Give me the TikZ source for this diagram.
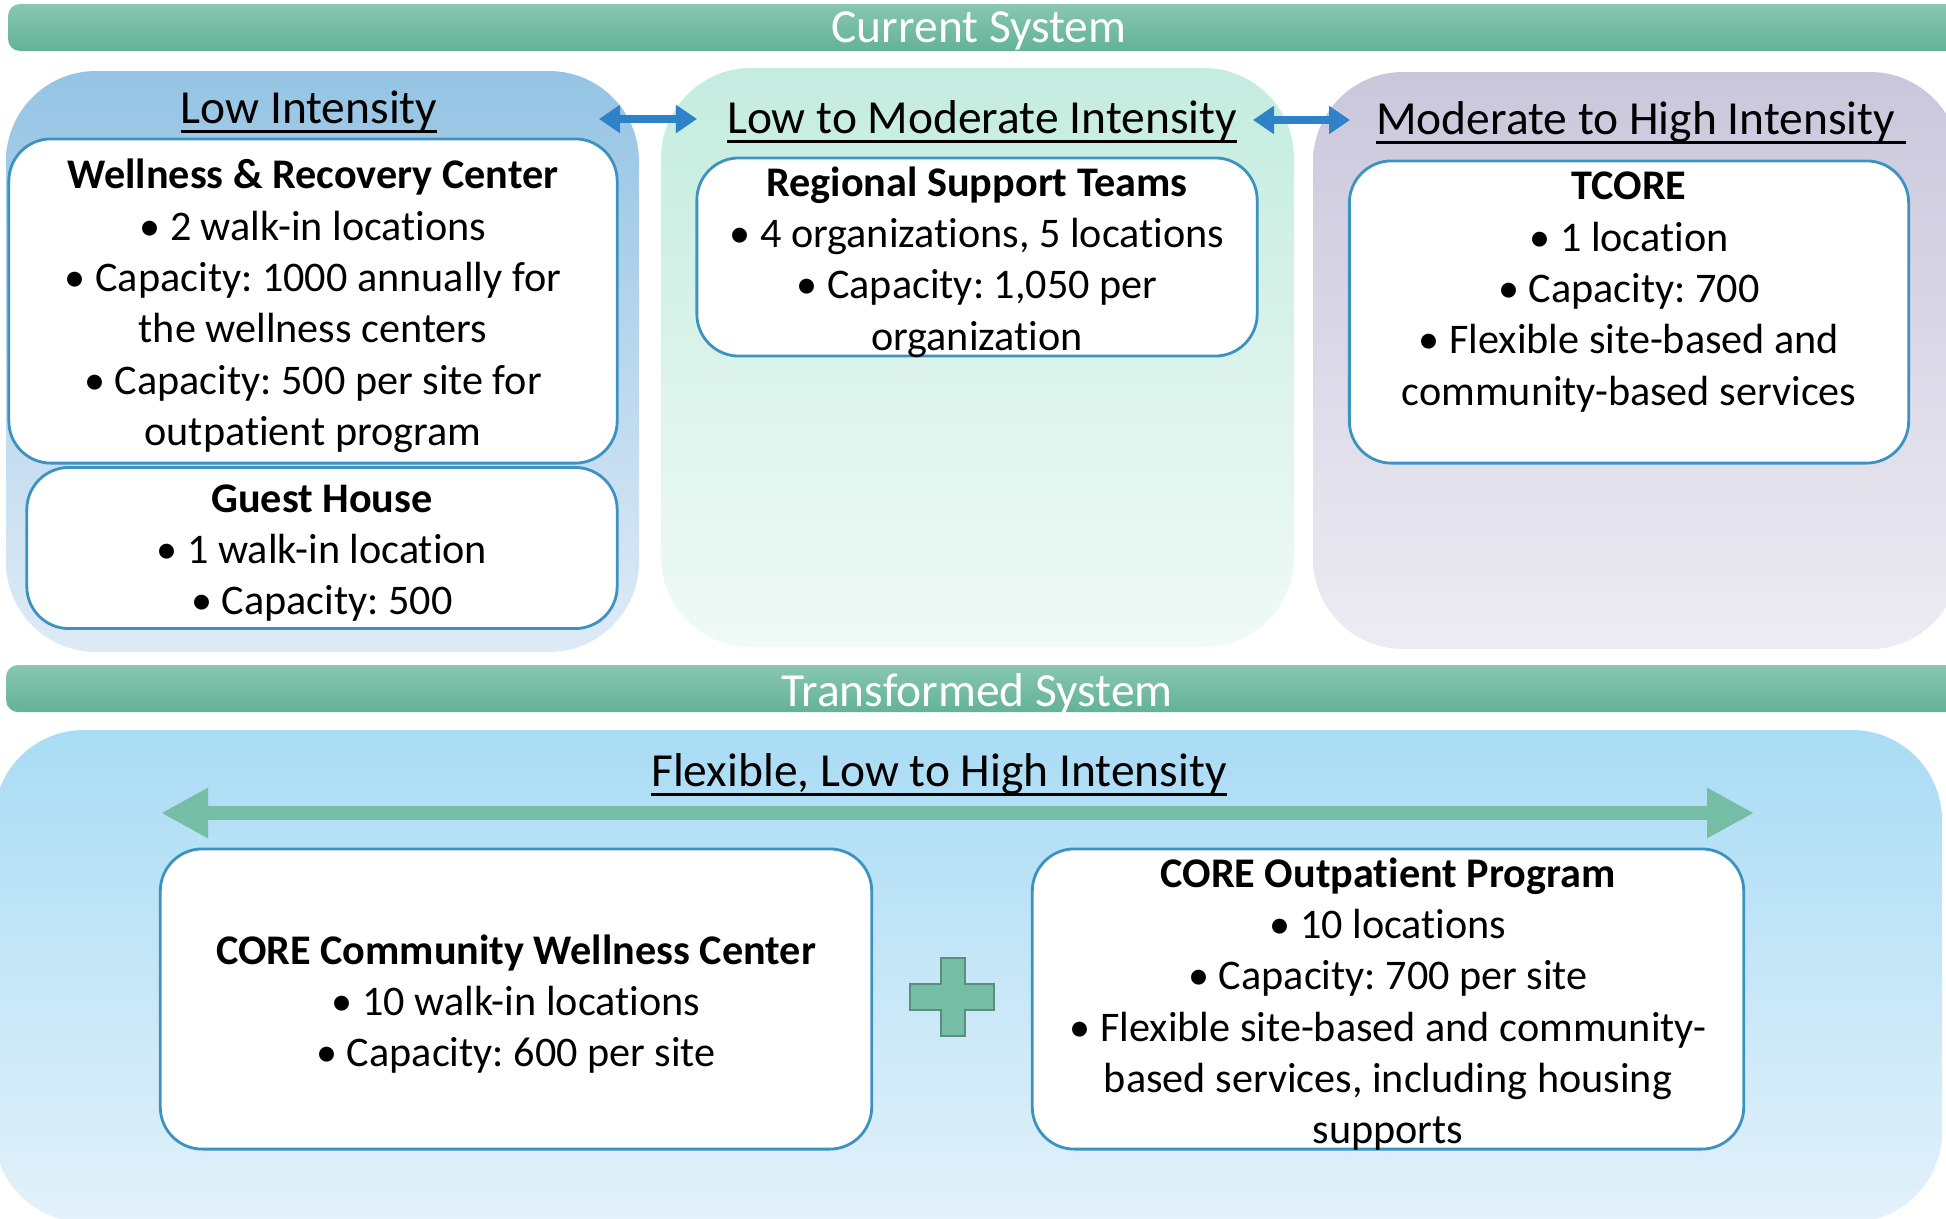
\documentclass[tikz,border=0pt]{standalone}
\usepackage{fontspec}
\setmainfont{Carlito}[Ligatures=NoCommon]
\usetikzlibrary{arrows.meta}
\usetikzlibrary{positioning}
\frenchspacing
\newcommand{\thickul}[1]{\setbox0\hbox{#1}\leavevmode\rlap{\rule[-2.8pt]{\wd0}{0.9pt}}\box0}
\definecolor{bartop}{HTML}{88C7B1}
\definecolor{barbot}{HTML}{63B298}
\definecolor{lowtop}{HTML}{95C4E4}
\definecolor{lowbot}{HTML}{DEEBF6}
\definecolor{modtop}{HTML}{C4ECDF}
\definecolor{modbot}{HTML}{F0FAF6}
\definecolor{hightop}{HTML}{CAC7DC}
\definecolor{highbot}{HTML}{EDECF3}
\definecolor{flextop}{HTML}{A9DCF5}
\definecolor{flexbot}{HTML}{E3F1FA}
\definecolor{boxline}{HTML}{3C93C1}
\definecolor{linkblue}{HTML}{2E82C8}
\definecolor{flexgreen}{HTML}{75BDA5}
\definecolor{plusline}{HTML}{5A8F7E}
\tikzset{
 bar/.style={top color=bartop, bottom color=barbot, rounded corners=0.12cm},
 panel/.style={rounded corners=0.9cm},
 bartext/.style={text=white, font=\fontsize{13.5}{16}\selectfont},
 headtext/.style={font=\fontsize{13.5}{16}\selectfont},
 infobox/.style={draw=boxline, line width=0.8pt, fill=white, rounded corners=0.42cm, inner sep=0pt},
 infotext/.style={align=center, inner sep=0pt, font=\fontsize{12}{14.6}\selectfont},
 link/.style={draw=linkblue, line width=0.075cm, {Triangle[length=0.21cm,width=0.27cm]}-{Triangle[length=0.21cm,width=0.27cm]}},
 span/.style={draw=flexgreen, line width=0.14cm, {Triangle[length=0.47cm,width=0.47cm]}-{Triangle[length=0.47cm,width=0.47cm]}},
 }

\begin{document}
\begin{tikzpicture}[x=0.01cm,y=-0.01cm]
    \useasboundingbox (0,0) rectangle (1946,1218);
    % current system
    \shade[bar] (8,4) rectangle (1960,51);
    \node[bartext] (cur) at (979,31) {Current System};
    \shade[panel, top color=lowtop, bottom color=lowbot] (6,71) rectangle (639,652);
    \shade[panel, top color=modtop, bottom color=modbot] (661,68) rectangle (1294,647);
    \shade[panel, top color=hightop, bottom color=highbot] (1313,72) rectangle (1960,649);
    \node[headtext] (low) at (309,112) {\thickul{Low Intensity}};
    \node[headtext] (lowmod) at (982,122) {\thickul{Low to Moderate Intensity}};
    \node[headtext] (modhigh) at (1641,123) {\thickul{Moderate to High Intensity\ }};
    \coordinate (lowE) at (599,119);
    \coordinate (modW) at (697,119);
    \coordinate (modE) at (1253,120);
    \coordinate (highW) at (1350,120);
    \draw[link] (lowE) -- (modW);
    \draw[link] (modE) -- (highW);
    \node[infobox, minimum width=6.08cm, minimum height=3.24cm] (wrc) at (313,301) {};
    \node[infotext, yshift=-0.05cm] (wrctext) at (wrc)
        {\textbf{Wellness \& Recovery Center}\\
         • 2 walk-in locations\\
         • Capacity: 1000 annually for\\
         the wellness centers\\
         • Capacity: 500 per site for\\
         outpatient program};
    \node[infobox, minimum width=5.90cm, minimum height=1.61cm] (guest) at (322,548) {};
    \node[infotext, yshift=-0.05cm] (guesttext) at (guest)
        {\textbf{Guest House}\\
         • 1 walk-in location\\
         • Capacity: 500};
    \node[infobox, minimum width=5.60cm, minimum height=1.98cm] (rst) at (977,257) {};
    \node[infotext, yshift=-0.05cm] (rsttext) at (rst)
        {\textbf{Regional Support Teams}\\
         • 4 organizations, 5 locations\\
         • Capacity: 1,050 per\\
         organization};
    \node[infobox, minimum width=5.59cm, minimum height=3.02cm] (tcore) at (1629,312) {};
    \node[infotext, below=0.12cm of tcore.north] (tcoretext)
        {\textbf{TCORE}\\
         • 1 location\\
         • Capacity: 700\\
         • Flexible site-based and\\
         community-based services};
    % transformed system
    \shade[bar] (6,665) rectangle (1960,712);
    \node[bartext] (trans) at (977,694) {Transformed System};
    \shade[panel, top color=flextop, bottom color=flexbot] (-6,730) rectangle (1942,1222);
    \node[headtext] (flex) at (939,775) {\thickul{Flexible, Low to High Intensity}};
    \coordinate (flexW) at (161,813);
    \coordinate (flexE) at (1754,813);
    \draw[span] (flexW) -- (flexE);
    \node[infobox, minimum width=7.11cm, minimum height=3.00cm] (cwc) at (516,999) {};
    \node[infotext, yshift=-0.05cm] (cwctext) at (cwc)
        {\textbf{CORE Community Wellness Center}\\
         • 10 walk-in locations\\
         • Capacity: 600 per site};
    \node[infobox, minimum width=7.11cm, minimum height=3.00cm] (cop) at (1388,999) {};
    \node[infotext, yshift=-0.05cm] (coptext) at (cop)
        {\textbf{CORE Outpatient Program}\\
         • 10 locations\\
         • Capacity: 700 per site\\
         • Flexible site-based and community-\\
         based services, including housing\\
         supports};
    \draw[fill=flexgreen, draw=plusline, line width=0.8pt]
        (941,958) -- (965,958) -- (965,984) -- (994,984) -- (994,1010) -- (965,1010)
        -- (965,1036) -- (941,1036) -- (941,1010) -- (910,1010) -- (910,984) -- (941,984) -- cycle;
\end{tikzpicture}
\end{document}
